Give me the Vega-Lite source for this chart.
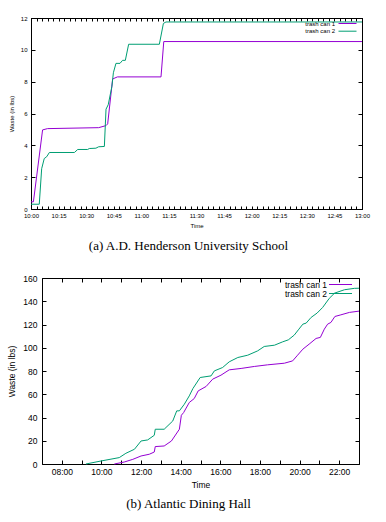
{
  "$schema": "https://vega.github.io/schema/vega-lite/v6.json",
  "padding": {"left": 7, "top": 14, "right": 5, "bottom": 5},
  "config": {
    "view": {"stroke": "black", "strokeWidth": 1},
    "font": "Liberation Sans",
    "axis": {"grid": false, "domainColor": "black", "tickColor": "black", "labelColor": "black", "titleColor": "black", "labelFont": "Liberation Sans", "titleFont": "Liberation Sans", "titleFontWeight": "normal", "labelFlush": false, "labelOverlap": false, "tickWidth": 1, "domainWidth": 1}
  },
  "datasets": {
    "a": [
      {"s": "trash can 1", "t": "2020-01-01T10:00:00", "w": 0.45},
      {"s": "trash can 1", "t": "2020-01-01T10:01:18", "w": 0.45},
      {"s": "trash can 1", "t": "2020-01-01T10:06:18", "w": 4.97},
      {"s": "trash can 1", "t": "2020-01-01T10:09:00", "w": 5.05},
      {"s": "trash can 1", "t": "2020-01-01T10:36:48", "w": 5.11},
      {"s": "trash can 1", "t": "2020-01-01T10:40:48", "w": 5.24},
      {"s": "trash can 1", "t": "2020-01-01T10:41:42", "w": 5.35},
      {"s": "trash can 1", "t": "2020-01-01T10:44:24", "w": 8.17},
      {"s": "trash can 1", "t": "2020-01-01T10:47:00", "w": 8.3},
      {"s": "trash can 1", "t": "2020-01-01T11:10:42", "w": 8.3},
      {"s": "trash can 1", "t": "2020-01-01T11:12:12", "w": 10.52},
      {"s": "trash can 1", "t": "2020-01-01T13:00:00", "w": 10.52},
      {"s": "trash can 2", "t": "2020-01-01T10:00:00", "w": 0.3},
      {"s": "trash can 2", "t": "2020-01-01T10:04:30", "w": 0.3},
      {"s": "trash can 2", "t": "2020-01-01T10:05:48", "w": 2.53},
      {"s": "trash can 2", "t": "2020-01-01T10:07:12", "w": 3.17},
      {"s": "trash can 2", "t": "2020-01-01T10:08:30", "w": 3.28},
      {"s": "trash can 2", "t": "2020-01-01T10:10:00", "w": 3.55},
      {"s": "trash can 2", "t": "2020-01-01T10:23:36", "w": 3.55},
      {"s": "trash can 2", "t": "2020-01-01T10:25:24", "w": 3.74},
      {"s": "trash can 2", "t": "2020-01-01T10:30:48", "w": 3.74},
      {"s": "trash can 2", "t": "2020-01-01T10:31:42", "w": 3.8},
      {"s": "trash can 2", "t": "2020-01-01T10:35:18", "w": 3.82},
      {"s": "trash can 2", "t": "2020-01-01T10:36:48", "w": 3.91},
      {"s": "trash can 2", "t": "2020-01-01T10:39:54", "w": 3.93},
      {"s": "trash can 2", "t": "2020-01-01T10:40:48", "w": 6.27},
      {"s": "trash can 2", "t": "2020-01-01T10:42:00", "w": 6.55},
      {"s": "trash can 2", "t": "2020-01-01T10:44:00", "w": 7.71},
      {"s": "trash can 2", "t": "2020-01-01T10:44:48", "w": 8.56},
      {"s": "trash can 2", "t": "2020-01-01T10:46:12", "w": 9.15},
      {"s": "trash can 2", "t": "2020-01-01T10:48:24", "w": 9.15},
      {"s": "trash can 2", "t": "2020-01-01T10:49:48", "w": 9.34},
      {"s": "trash can 2", "t": "2020-01-01T10:51:18", "w": 9.34},
      {"s": "trash can 2", "t": "2020-01-01T10:53:06", "w": 10.35},
      {"s": "trash can 2", "t": "2020-01-01T11:09:48", "w": 10.35},
      {"s": "trash can 2", "t": "2020-01-01T11:12:00", "w": 11.66},
      {"s": "trash can 2", "t": "2020-01-01T11:13:24", "w": 11.75},
      {"s": "trash can 2", "t": "2020-01-01T13:00:00", "w": 11.75}
    ],
    "b": [
      {"s": "trash can 1", "t": "2020-01-01T10:39:00", "w": 0},
      {"s": "trash can 1", "t": "2020-01-01T11:09:00", "w": 1.7},
      {"s": "trash can 1", "t": "2020-01-01T11:35:00", "w": 4},
      {"s": "trash can 1", "t": "2020-01-01T12:00:00", "w": 6.9},
      {"s": "trash can 1", "t": "2020-01-01T12:25:00", "w": 8.4},
      {"s": "trash can 1", "t": "2020-01-01T12:40:00", "w": 10.3},
      {"s": "trash can 1", "t": "2020-01-01T12:43:00", "w": 15},
      {"s": "trash can 1", "t": "2020-01-01T13:10:00", "w": 15.5},
      {"s": "trash can 1", "t": "2020-01-01T13:32:00", "w": 19.8},
      {"s": "trash can 1", "t": "2020-01-01T13:56:00", "w": 29.9},
      {"s": "trash can 1", "t": "2020-01-01T14:02:00", "w": 41.9},
      {"s": "trash can 1", "t": "2020-01-01T14:09:00", "w": 44.3},
      {"s": "trash can 1", "t": "2020-01-01T14:26:00", "w": 52.9},
      {"s": "trash can 1", "t": "2020-01-01T14:41:00", "w": 56.3},
      {"s": "trash can 1", "t": "2020-01-01T14:53:00", "w": 62.9},
      {"s": "trash can 1", "t": "2020-01-01T15:17:00", "w": 66.7},
      {"s": "trash can 1", "t": "2020-01-01T15:37:00", "w": 73},
      {"s": "trash can 1", "t": "2020-01-01T16:02:00", "w": 76.4},
      {"s": "trash can 1", "t": "2020-01-01T16:27:00", "w": 81},
      {"s": "trash can 1", "t": "2020-01-01T17:03:00", "w": 82.2},
      {"s": "trash can 1", "t": "2020-01-01T17:43:00", "w": 83.9},
      {"s": "trash can 1", "t": "2020-01-01T18:23:00", "w": 85.3},
      {"s": "trash can 1", "t": "2020-01-01T19:14:00", "w": 86.7},
      {"s": "trash can 1", "t": "2020-01-01T19:39:00", "w": 88.7},
      {"s": "trash can 1", "t": "2020-01-01T19:54:00", "w": 93.6},
      {"s": "trash can 1", "t": "2020-01-01T20:10:00", "w": 98.8},
      {"s": "trash can 1", "t": "2020-01-01T20:29:00", "w": 103.1},
      {"s": "trash can 1", "t": "2020-01-01T20:50:00", "w": 108},
      {"s": "trash can 1", "t": "2020-01-01T21:03:00", "w": 108.9},
      {"s": "trash can 1", "t": "2020-01-01T21:15:00", "w": 116},
      {"s": "trash can 1", "t": "2020-01-01T21:25:00", "w": 120.3},
      {"s": "trash can 1", "t": "2020-01-01T21:35:00", "w": 121.8},
      {"s": "trash can 1", "t": "2020-01-01T21:47:00", "w": 126.9},
      {"s": "trash can 1", "t": "2020-01-01T22:05:00", "w": 128.3},
      {"s": "trash can 1", "t": "2020-01-01T22:31:00", "w": 130.4},
      {"s": "trash can 1", "t": "2020-01-01T23:00:00", "w": 131.5},
      {"s": "trash can 2", "t": "2020-01-01T09:13:00", "w": 0},
      {"s": "trash can 2", "t": "2020-01-01T09:59:00", "w": 2.6},
      {"s": "trash can 2", "t": "2020-01-01T10:54:00", "w": 5.5},
      {"s": "trash can 2", "t": "2020-01-01T11:14:00", "w": 9.2},
      {"s": "trash can 2", "t": "2020-01-01T11:40:00", "w": 12.7},
      {"s": "trash can 2", "t": "2020-01-01T12:00:00", "w": 19.8},
      {"s": "trash can 2", "t": "2020-01-01T12:20:00", "w": 20.7},
      {"s": "trash can 2", "t": "2020-01-01T12:40:00", "w": 24.7},
      {"s": "trash can 2", "t": "2020-01-01T12:43:00", "w": 29.9},
      {"s": "trash can 2", "t": "2020-01-01T13:10:00", "w": 29.9},
      {"s": "trash can 2", "t": "2020-01-01T13:36:00", "w": 37},
      {"s": "trash can 2", "t": "2020-01-01T13:48:00", "w": 45.7},
      {"s": "trash can 2", "t": "2020-01-01T13:56:00", "w": 45.7},
      {"s": "trash can 2", "t": "2020-01-01T14:11:00", "w": 51.4},
      {"s": "trash can 2", "t": "2020-01-01T14:26:00", "w": 58.6},
      {"s": "trash can 2", "t": "2020-01-01T14:37:00", "w": 64.9},
      {"s": "trash can 2", "t": "2020-01-01T14:59:00", "w": 74.4},
      {"s": "trash can 2", "t": "2020-01-01T15:32:00", "w": 75.8},
      {"s": "trash can 2", "t": "2020-01-01T15:42:00", "w": 80.1},
      {"s": "trash can 2", "t": "2020-01-01T16:07:00", "w": 83},
      {"s": "trash can 2", "t": "2020-01-01T16:27:00", "w": 87.9},
      {"s": "trash can 2", "t": "2020-01-01T16:53:00", "w": 91.6},
      {"s": "trash can 2", "t": "2020-01-01T17:23:00", "w": 93.6},
      {"s": "trash can 2", "t": "2020-01-01T17:53:00", "w": 97.3},
      {"s": "trash can 2", "t": "2020-01-01T18:13:00", "w": 101.1},
      {"s": "trash can 2", "t": "2020-01-01T18:44:00", "w": 102.2},
      {"s": "trash can 2", "t": "2020-01-01T19:09:00", "w": 105.1},
      {"s": "trash can 2", "t": "2020-01-01T19:26:00", "w": 106.8},
      {"s": "trash can 2", "t": "2020-01-01T19:44:00", "w": 110.9},
      {"s": "trash can 2", "t": "2020-01-01T19:58:00", "w": 116},
      {"s": "trash can 2", "t": "2020-01-01T20:10:00", "w": 120.3},
      {"s": "trash can 2", "t": "2020-01-01T20:20:00", "w": 121.2},
      {"s": "trash can 2", "t": "2020-01-01T20:35:00", "w": 126.1},
      {"s": "trash can 2", "t": "2020-01-01T20:53:00", "w": 129.8},
      {"s": "trash can 2", "t": "2020-01-01T21:10:00", "w": 134.7},
      {"s": "trash can 2", "t": "2020-01-01T21:30:00", "w": 142.5},
      {"s": "trash can 2", "t": "2020-01-01T21:46:00", "w": 147},
      {"s": "trash can 2", "t": "2020-01-01T22:16:00", "w": 149.9},
      {"s": "trash can 2", "t": "2020-01-01T22:46:00", "w": 151.1},
      {"s": "trash can 2", "t": "2020-01-01T23:00:00", "w": 151.2}
    ]
  },
  "spacing": 20,
  "resolve": {"scale": {"x": "independent", "y": "independent", "color": "independent"}, "legend": {"color": "independent"}},
  "vconcat": [
    {
      "width": 331,
      "height": 191,
      "data": {"name": "a"},
      "title": {"text": "(a)  A.D. Henderson University School", "orient": "bottom", "anchor": "middle", "frame": "group", "font": "Liberation Serif", "fontSize": 13, "fontWeight": "normal", "color": "black", "offset": 12, "dx": -8},
      "resolve": {"axis": {"x": "independent", "y": "independent"}},
      "layer": [
        {
          "mark": {"type": "line", "strokeWidth": 1},
          "encoding": {
            "x": {"field": "t", "type": "temporal", "scale": {"domain": [{"year": 2020, "month": 1, "date": 1, "hours": 10}, {"year": 2020, "month": 1, "date": 1, "hours": 13}], "nice": false},
              "axis": {"orient": "bottom", "title": "Time", "values": [
                {"year": 2020, "month": 1, "date": 1, "hours": 10, "minutes": 0}, {"year": 2020, "month": 1, "date": 1, "hours": 10, "minutes": 3}, {"year": 2020, "month": 1, "date": 1, "hours": 10, "minutes": 6}, {"year": 2020, "month": 1, "date": 1, "hours": 10, "minutes": 9}, {"year": 2020, "month": 1, "date": 1, "hours": 10, "minutes": 12},
                {"year": 2020, "month": 1, "date": 1, "hours": 10, "minutes": 15}, {"year": 2020, "month": 1, "date": 1, "hours": 10, "minutes": 18}, {"year": 2020, "month": 1, "date": 1, "hours": 10, "minutes": 21}, {"year": 2020, "month": 1, "date": 1, "hours": 10, "minutes": 24}, {"year": 2020, "month": 1, "date": 1, "hours": 10, "minutes": 27},
                {"year": 2020, "month": 1, "date": 1, "hours": 10, "minutes": 30}, {"year": 2020, "month": 1, "date": 1, "hours": 10, "minutes": 33}, {"year": 2020, "month": 1, "date": 1, "hours": 10, "minutes": 36}, {"year": 2020, "month": 1, "date": 1, "hours": 10, "minutes": 39}, {"year": 2020, "month": 1, "date": 1, "hours": 10, "minutes": 42},
                {"year": 2020, "month": 1, "date": 1, "hours": 10, "minutes": 45}, {"year": 2020, "month": 1, "date": 1, "hours": 10, "minutes": 48}, {"year": 2020, "month": 1, "date": 1, "hours": 10, "minutes": 51}, {"year": 2020, "month": 1, "date": 1, "hours": 10, "minutes": 54}, {"year": 2020, "month": 1, "date": 1, "hours": 10, "minutes": 57},
                {"year": 2020, "month": 1, "date": 1, "hours": 11, "minutes": 0}, {"year": 2020, "month": 1, "date": 1, "hours": 11, "minutes": 3}, {"year": 2020, "month": 1, "date": 1, "hours": 11, "minutes": 6}, {"year": 2020, "month": 1, "date": 1, "hours": 11, "minutes": 9}, {"year": 2020, "month": 1, "date": 1, "hours": 11, "minutes": 12},
                {"year": 2020, "month": 1, "date": 1, "hours": 11, "minutes": 15}, {"year": 2020, "month": 1, "date": 1, "hours": 11, "minutes": 18}, {"year": 2020, "month": 1, "date": 1, "hours": 11, "minutes": 21}, {"year": 2020, "month": 1, "date": 1, "hours": 11, "minutes": 24}, {"year": 2020, "month": 1, "date": 1, "hours": 11, "minutes": 27},
                {"year": 2020, "month": 1, "date": 1, "hours": 11, "minutes": 30}, {"year": 2020, "month": 1, "date": 1, "hours": 11, "minutes": 33}, {"year": 2020, "month": 1, "date": 1, "hours": 11, "minutes": 36}, {"year": 2020, "month": 1, "date": 1, "hours": 11, "minutes": 39}, {"year": 2020, "month": 1, "date": 1, "hours": 11, "minutes": 42},
                {"year": 2020, "month": 1, "date": 1, "hours": 11, "minutes": 45}, {"year": 2020, "month": 1, "date": 1, "hours": 11, "minutes": 48}, {"year": 2020, "month": 1, "date": 1, "hours": 11, "minutes": 51}, {"year": 2020, "month": 1, "date": 1, "hours": 11, "minutes": 54}, {"year": 2020, "month": 1, "date": 1, "hours": 11, "minutes": 57},
                {"year": 2020, "month": 1, "date": 1, "hours": 12, "minutes": 0}, {"year": 2020, "month": 1, "date": 1, "hours": 12, "minutes": 3}, {"year": 2020, "month": 1, "date": 1, "hours": 12, "minutes": 6}, {"year": 2020, "month": 1, "date": 1, "hours": 12, "minutes": 9}, {"year": 2020, "month": 1, "date": 1, "hours": 12, "minutes": 12},
                {"year": 2020, "month": 1, "date": 1, "hours": 12, "minutes": 15}, {"year": 2020, "month": 1, "date": 1, "hours": 12, "minutes": 18}, {"year": 2020, "month": 1, "date": 1, "hours": 12, "minutes": 21}, {"year": 2020, "month": 1, "date": 1, "hours": 12, "minutes": 24}, {"year": 2020, "month": 1, "date": 1, "hours": 12, "minutes": 27},
                {"year": 2020, "month": 1, "date": 1, "hours": 12, "minutes": 30}, {"year": 2020, "month": 1, "date": 1, "hours": 12, "minutes": 33}, {"year": 2020, "month": 1, "date": 1, "hours": 12, "minutes": 36}, {"year": 2020, "month": 1, "date": 1, "hours": 12, "minutes": 39}, {"year": 2020, "month": 1, "date": 1, "hours": 12, "minutes": 42},
                {"year": 2020, "month": 1, "date": 1, "hours": 12, "minutes": 45}, {"year": 2020, "month": 1, "date": 1, "hours": 12, "minutes": 48}, {"year": 2020, "month": 1, "date": 1, "hours": 12, "minutes": 51}, {"year": 2020, "month": 1, "date": 1, "hours": 12, "minutes": 54}, {"year": 2020, "month": 1, "date": 1, "hours": 12, "minutes": 57},
                {"year": 2020, "month": 1, "date": 1, "hours": 13, "minutes": 0}],
                "labelExpr": "minutes(datum.value) % 15 === 0 ? timeFormat(datum.value, '%H:%M') : ''", "tickSize": -3, "labelPadding": 6, "labelFontSize": 6, "titleFontSize": 6, "titlePadding": 4}},
            "y": {"field": "w", "type": "quantitative", "scale": {"domain": [0, 12], "nice": false},
              "axis": {"orient": "left", "title": "Waste (in lbs)", "values": [0, 2, 4, 6, 8, 10, 12], "tickSize": -4, "labelPadding": 8, "labelFontSize": 6, "titleFontSize": 6, "titlePadding": 6.3}},
            "color": {"field": "s", "type": "nominal", "scale": {"domain": ["trash can 1", "trash can 2"], "range": ["#9400d3", "#009e73"]},
              "legend": {"orient": "none", "legendX": 313, "legendY": 2, "title": null, "symbolType": "M-3,0H3", "symbolSize": 36, "symbolStrokeWidth": 1, "labelFont": "Liberation Sans", "labelFontSize": 6, "labelColor": "black", "labelAlign": "right", "labelOffset": -16, "rowPadding": 0.7, "padding": 0}}
          }
        },
        {
          "mark": {"type": "line", "opacity": 0},
          "encoding": {
            "x": {"field": "t", "type": "temporal", "axis": {"orient": "top", "title": null, "labels": false, "tickSize": -3, "values": [
                {"year": 2020, "month": 1, "date": 1, "hours": 10, "minutes": 0}, {"year": 2020, "month": 1, "date": 1, "hours": 10, "minutes": 3}, {"year": 2020, "month": 1, "date": 1, "hours": 10, "minutes": 6}, {"year": 2020, "month": 1, "date": 1, "hours": 10, "minutes": 9}, {"year": 2020, "month": 1, "date": 1, "hours": 10, "minutes": 12},
                {"year": 2020, "month": 1, "date": 1, "hours": 10, "minutes": 15}, {"year": 2020, "month": 1, "date": 1, "hours": 10, "minutes": 18}, {"year": 2020, "month": 1, "date": 1, "hours": 10, "minutes": 21}, {"year": 2020, "month": 1, "date": 1, "hours": 10, "minutes": 24}, {"year": 2020, "month": 1, "date": 1, "hours": 10, "minutes": 27},
                {"year": 2020, "month": 1, "date": 1, "hours": 10, "minutes": 30}, {"year": 2020, "month": 1, "date": 1, "hours": 10, "minutes": 33}, {"year": 2020, "month": 1, "date": 1, "hours": 10, "minutes": 36}, {"year": 2020, "month": 1, "date": 1, "hours": 10, "minutes": 39}, {"year": 2020, "month": 1, "date": 1, "hours": 10, "minutes": 42},
                {"year": 2020, "month": 1, "date": 1, "hours": 10, "minutes": 45}, {"year": 2020, "month": 1, "date": 1, "hours": 10, "minutes": 48}, {"year": 2020, "month": 1, "date": 1, "hours": 10, "minutes": 51}, {"year": 2020, "month": 1, "date": 1, "hours": 10, "minutes": 54}, {"year": 2020, "month": 1, "date": 1, "hours": 10, "minutes": 57},
                {"year": 2020, "month": 1, "date": 1, "hours": 11, "minutes": 0}, {"year": 2020, "month": 1, "date": 1, "hours": 11, "minutes": 3}, {"year": 2020, "month": 1, "date": 1, "hours": 11, "minutes": 6}, {"year": 2020, "month": 1, "date": 1, "hours": 11, "minutes": 9}, {"year": 2020, "month": 1, "date": 1, "hours": 11, "minutes": 12},
                {"year": 2020, "month": 1, "date": 1, "hours": 11, "minutes": 15}, {"year": 2020, "month": 1, "date": 1, "hours": 11, "minutes": 18}, {"year": 2020, "month": 1, "date": 1, "hours": 11, "minutes": 21}, {"year": 2020, "month": 1, "date": 1, "hours": 11, "minutes": 24}, {"year": 2020, "month": 1, "date": 1, "hours": 11, "minutes": 27},
                {"year": 2020, "month": 1, "date": 1, "hours": 11, "minutes": 30}, {"year": 2020, "month": 1, "date": 1, "hours": 11, "minutes": 33}, {"year": 2020, "month": 1, "date": 1, "hours": 11, "minutes": 36}, {"year": 2020, "month": 1, "date": 1, "hours": 11, "minutes": 39}, {"year": 2020, "month": 1, "date": 1, "hours": 11, "minutes": 42},
                {"year": 2020, "month": 1, "date": 1, "hours": 11, "minutes": 45}, {"year": 2020, "month": 1, "date": 1, "hours": 11, "minutes": 48}, {"year": 2020, "month": 1, "date": 1, "hours": 11, "minutes": 51}, {"year": 2020, "month": 1, "date": 1, "hours": 11, "minutes": 54}, {"year": 2020, "month": 1, "date": 1, "hours": 11, "minutes": 57},
                {"year": 2020, "month": 1, "date": 1, "hours": 12, "minutes": 0}, {"year": 2020, "month": 1, "date": 1, "hours": 12, "minutes": 3}, {"year": 2020, "month": 1, "date": 1, "hours": 12, "minutes": 6}, {"year": 2020, "month": 1, "date": 1, "hours": 12, "minutes": 9}, {"year": 2020, "month": 1, "date": 1, "hours": 12, "minutes": 12},
                {"year": 2020, "month": 1, "date": 1, "hours": 12, "minutes": 15}, {"year": 2020, "month": 1, "date": 1, "hours": 12, "minutes": 18}, {"year": 2020, "month": 1, "date": 1, "hours": 12, "minutes": 21}, {"year": 2020, "month": 1, "date": 1, "hours": 12, "minutes": 24}, {"year": 2020, "month": 1, "date": 1, "hours": 12, "minutes": 27},
                {"year": 2020, "month": 1, "date": 1, "hours": 12, "minutes": 30}, {"year": 2020, "month": 1, "date": 1, "hours": 12, "minutes": 33}, {"year": 2020, "month": 1, "date": 1, "hours": 12, "minutes": 36}, {"year": 2020, "month": 1, "date": 1, "hours": 12, "minutes": 39}, {"year": 2020, "month": 1, "date": 1, "hours": 12, "minutes": 42},
                {"year": 2020, "month": 1, "date": 1, "hours": 12, "minutes": 45}, {"year": 2020, "month": 1, "date": 1, "hours": 12, "minutes": 48}, {"year": 2020, "month": 1, "date": 1, "hours": 12, "minutes": 51}, {"year": 2020, "month": 1, "date": 1, "hours": 12, "minutes": 54}, {"year": 2020, "month": 1, "date": 1, "hours": 12, "minutes": 57},
                {"year": 2020, "month": 1, "date": 1, "hours": 13, "minutes": 0}]}},
            "y": {"field": "w", "type": "quantitative", "axis": {"orient": "right", "title": null, "labels": false, "values": [0, 2, 4, 6, 8, 10, 12], "tickSize": -4}},
            "detail": {"field": "s", "type": "nominal"}
          }
        }
      ]
    },
    {
      "width": 328,
      "height": 186,
      "view": {"stroke": null},
      "data": {"name": "b"},
      "title": {"text": "(b)  Atlantic Dining Hall", "orient": "bottom", "anchor": "middle", "frame": "group", "font": "Liberation Serif", "fontSize": 13, "fontWeight": "normal", "color": "black", "offset": 9, "dx": -6.5},
      "resolve": {"axis": {"x": "independent", "y": "independent"}},
      "layer": [
        {
          "mark": {"type": "line", "strokeWidth": 1},
          "encoding": {
            "x": {"field": "t", "type": "temporal", "scale": {"domain": [{"year": 2020, "month": 1, "date": 1, "hours": 7}, {"year": 2020, "month": 1, "date": 1, "hours": 23}], "range": [11, 328], "nice": false},
              "axis": {"orient": "bottom", "title": "Time", "tickCount": "hour", "labelExpr": "hours(datum.value) % 2 === 0 ? timeFormat(datum.value, '%H:%M') : ''", "tickSize": -4, "labelPadding": 7.75, "labelFontSize": 8.5, "titleFontSize": 8.5, "titlePadding": 4}},
            "y": {"field": "w", "type": "quantitative", "scale": {"domain": [0, 160], "nice": false},
              "axis": {"orient": "left", "offset": -11, "title": "Waste (in lbs)", "values": [0, 20, 40, 60, 80, 100, 120, 140, 160], "tickSize": -4, "labelPadding": 9, "labelFontSize": 8.5, "titleFontSize": 8.5, "titlePadding": 6.3}},
            "color": {"field": "s", "type": "nominal", "scale": {"domain": ["trash can 1", "trash can 2"], "range": ["#9400d3", "#009e73"]},
              "legend": {"orient": "none", "legendX": 305, "legendY": 2, "title": null, "symbolType": "M-3,0H3", "symbolSize": 58.8, "symbolStrokeWidth": 1, "labelFont": "Liberation Sans", "labelFontSize": 8.5, "labelColor": "black", "labelAlign": "right", "labelOffset": -18, "rowPadding": 0, "padding": 0}}
          }
        },
        {
          "mark": {"type": "line", "opacity": 0},
          "encoding": {
            "x": {"field": "t", "type": "temporal", "axis": {"orient": "top", "title": null, "labels": false, "tickSize": -4, "tickCount": "hour"}},
            "y": {"field": "w", "type": "quantitative", "axis": {"orient": "right", "title": null, "labels": false, "values": [0, 20, 40, 60, 80, 100, 120, 140, 160], "tickSize": -4}},
            "detail": {"field": "s", "type": "nominal"}
          }
        }
      ]
    }
  ]
}
